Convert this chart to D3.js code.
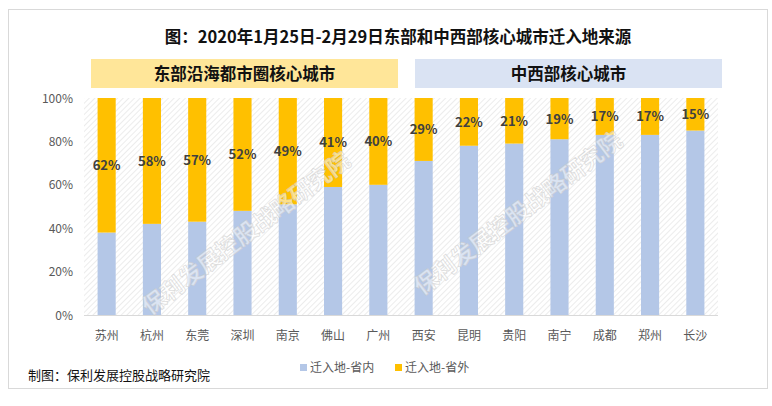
<!DOCTYPE html>
<html><head><meta charset="utf-8">
<script src="https://cdn.jsdelivr.net/npm/d3@7"></script>
<style>body{margin:0;background:#fff;font-family:"Noto Sans CJK SC","Microsoft YaHei",sans-serif;}</style>
</head><body><svg id="c" width="772" height="406"></svg>
<script>
const title = "图：2020年1月25日-2月29日东部和中西部核心城市迁入地来源";
const cities = ["苏州","杭州","东莞","深圳","南京","佛山","广州","西安","昆明","贵阳","南宁","成都","郑州","长沙"];
const outside = [62,58,57,52,49,41,40,29,22,21,19,17,17,15];
const inside = outside.map(v => 100 - v);
const groups = ["东部沿海都市圈核心城市","中西部核心城市"];
const seriesNames = ["迁入地-省内","迁入地-省外"];
const yTicks = [0,20,40,60,80,100];
const source = "制图：保利发展控股战略研究院";
const watermark = "保利发展控股战略研究院";

const svg = d3.select("#c");
const font = '"Noto Sans CJK SC", sans-serif';
const m = {l:84, r:718, t:98, b:315};
const x = d3.scaleBand().domain(cities).range([m.l, m.r]).paddingInner(0.6).paddingOuter(0.3);
const y = d3.scaleLinear().domain([0,100]).range([m.b, m.t]);
const colIn = "#b4c7e7", colOut = "#ffc000";

// frame
svg.append("rect").attr("x",8.5).attr("y",9.5).attr("width",759).attr("height",379)
  .attr("fill","#fff").attr("stroke","#d9d9d9");

// hatch pattern
const defs = svg.append("defs");
const pat = defs.append("pattern").attr("id","hatch").attr("patternUnits","userSpaceOnUse")
  .attr("width",4).attr("height",4).attr("patternTransform","rotate(45)");
pat.append("line").attr("x1",0).attr("y1",0).attr("x2",0).attr("y2",4)
  .attr("stroke","#e0e0e0").attr("stroke-width",1.2);
svg.append("rect").attr("x",m.l).attr("y",m.t).attr("width",m.r-m.l).attr("height",m.b-m.t)
  .attr("fill","url(#hatch)");

// title
svg.append("text").attr("x",398).attr("y",43).attr("text-anchor","middle")
  .attr("font-family",font).attr("font-weight","bold").attr("font-size",16.5).attr("fill","#111").text(title);

// group header boxes
const hdrFill = ["#ffe699","#dae3f3"];
groups.forEach((g,i) => {
  const bx = i===0 ? 91 : 415, bw = 307;
  svg.append("rect").attr("x",bx).attr("y",59).attr("width",bw).attr("height",29).attr("fill",hdrFill[i]);
  svg.append("text").attr("x",bx+bw/2).attr("y",79.5).attr("text-anchor","middle")
    .attr("font-family",font).attr("font-weight","bold").attr("font-size",16.5).attr("fill","#111").text(g);
});

// y axis labels
svg.append("g").selectAll("text").data(yTicks).join("text")
  .attr("x",73).attr("y",d=>y(d)+4.5).attr("text-anchor","end")
  .attr("font-family",font).attr("font-size",12).attr("fill","#595959").text(d=>d+"%");

// baseline
svg.append("line").attr("x1",m.l).attr("x2",m.r).attr("y1",m.b+0.5).attr("y2",m.b+0.5)
  .attr("stroke","#d9d9d9");

// bars
const g = svg.append("g");
g.selectAll(".in").data(cities).join("rect")
  .attr("x",d=>x(d)).attr("width",x.bandwidth())
  .attr("y",(d,i)=>y(inside[i])).attr("height",(d,i)=>y(0)-y(inside[i])).attr("fill",colIn);
g.selectAll(".out").data(cities).join("rect")
  .attr("x",d=>x(d)).attr("width",x.bandwidth())
  .attr("y",y(100)).attr("height",(d,i)=>y(inside[i])-y(100)).attr("fill",colOut);

// value labels
g.selectAll(".lab").data(cities).join("text")
  .attr("x",d=>x(d)+x.bandwidth()/2).attr("y",(d,i)=>(y(100)+y(inside[i]))/2+5)
  .attr("text-anchor","middle").attr("font-family",font).attr("font-weight","bold")
  .attr("font-size",13).attr("fill","#404040").text((d,i)=>outside[i]+"%");

// x labels
svg.append("g").selectAll("text").data(cities).join("text")
  .attr("x",d=>x(d)+x.bandwidth()/2).attr("y",340).attr("text-anchor","middle")
  .attr("font-family",font).attr("font-size",12).attr("fill","#595959").text(d=>d);

// watermarks
[[150,316],[422,296]].forEach(([wx,wy]) => {
  svg.append("text").attr("transform",`translate(${wx},${wy}) rotate(-37)`)
    .attr("font-family",font).attr("font-weight","bold").attr("font-size",23)
    .attr("fill","#ffffff").attr("fill-opacity",0.55).attr("stroke","#c8c8c8").attr("stroke-opacity",0.6)
    .attr("stroke-width",0.8).text(watermark);
});

// legend
const leg = [[300,seriesNames[0],colIn],[395,seriesNames[1],colOut]];
leg.forEach(([lx,t,c]) => {
  svg.append("rect").attr("x",lx).attr("y",364).attr("width",7).attr("height",7).attr("fill",c);
  svg.append("text").attr("x",lx+10).attr("y",372).attr("font-family",font).attr("font-size",12)
    .attr("fill","#595959").text(t);
});

// source
svg.append("text").attr("x",28).attr("y",380).attr("font-family",font).attr("font-size",13)
  .attr("fill","#111").text(source);
</script></body></html>
